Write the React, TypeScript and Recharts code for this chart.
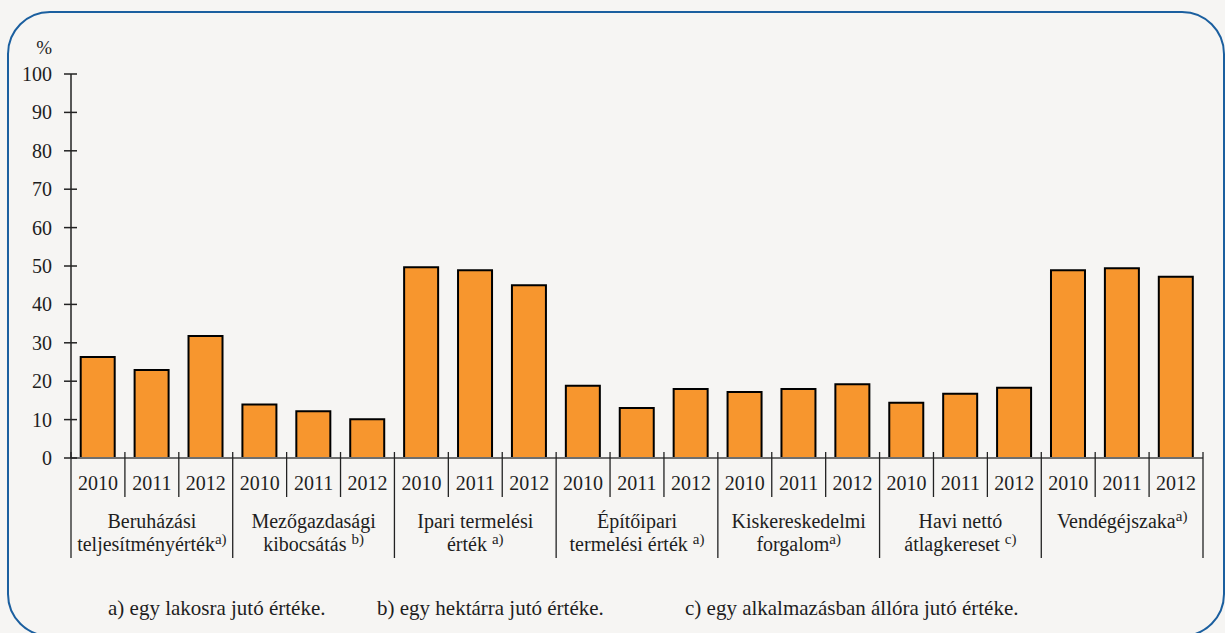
import React from 'react';
import { BarChart, Bar, XAxis, YAxis } from 'recharts';

// ---- data ----
const years = ['2010', '2011', '2012'];
const groupLine1 = ['Beruházási', 'Mezőgazdasági', 'Ipari termelési', 'Építőipari', 'Kiskereskedelmi', 'Havi nettó', 'Vendégéjszaka'];
const groupLine2 = ['teljesítményérték', 'kibocsátás ', 'érték ', 'termelési érték ', 'forgalom', 'átlagkereset ', ''];
const groupNote = ['a)', 'b)', 'a)', 'a)', 'a)', 'c)', 'a)'];
const values2010 = [26.3, 13.9, 49.7, 18.8, 17.2, 14.4, 48.9];
const values2011 = [22.9, 12.2, 48.9, 13.0, 18.0, 16.7, 49.4];
const values2012 = [31.8, 10.1, 45.0, 18.0, 19.2, 18.3, 47.2];
const yTicks = [0, 10, 20, 30, 40, 50, 60, 70, 80, 90, 100];
const footnotes = ['a) egy lakosra jutó értéke.', 'b) egy hektárra jutó értéke.', 'c) egy alkalmazásban állóra jutó értéke.'];

const seriesByYear = [values2010, values2011, values2012];
const data = groupLine1.flatMap((g, gi) =>
  years.map((y, yi) => ({ key: `${gi}-${y}`, year: y, group: gi, value: seriesByYear[yi][gi] }))
);

// ---- style ----
const W = 1225;
const H = 633;
const FONT = "'Liberation Serif', serif";
const TEXT = '#1e1e1e';
const ORANGE = '#f7962e';
const BG = '#f6f5f3';
const BLUE = '#1b5f9f';
const PLOT_LEFT = 71;
const PLOT_RIGHT = 1203;
const BW = (PLOT_RIGHT - PLOT_LEFT) / data.length;
const T = { fontFamily: FONT, fontSize: 20, fill: TEXT } as React.CSSProperties;
const SUP = { fontSize: 15 } as React.CSSProperties;

const YTick = (props: any) => {
  const { x, y, payload } = props;
  return (
    <g>
      <line x1={x - 7} x2={x + 6} y1={y} y2={y} stroke="#222" strokeWidth={1.5} />
      <text x={x - 19} y={y} textAnchor="end" dominantBaseline="central" style={T}>
        {payload.value}
      </text>
    </g>
  );
};

const XTick = (props: any) => {
  const { x, y, payload } = props;
  const i = payload.index;
  const d = data[i];
  const left = x - BW / 2;
  const right = x + BW / 2;
  const isGroupStart = i % 3 === 0;
  const isMiddle = i % 3 === 1;
  const isLast = i === data.length - 1;
  const g = d.group;
  return (
    <g>
      <line x1={left} x2={left} y1={y - 6} y2={isGroupStart ? y + 100 : y + 39} stroke="#222" strokeWidth={1.3} />
      {isLast && <line x1={right} x2={right} y1={y - 6} y2={y + 100} stroke="#222" strokeWidth={1.3} />}
      <text x={x} y={y + 25} textAnchor="middle" dominantBaseline="central" style={T}>
        {d.year}
      </text>
      {isMiddle && (
        <g>
          {groupLine2[g] === '' ? (
            <text x={x} y={y + 70} textAnchor="middle" style={T}>
              {groupLine1[g]}
              <tspan style={SUP} dy={-7}>{groupNote[g]}</tspan>
            </text>
          ) : (
            <>
              <text x={x} y={y + 70} textAnchor="middle" style={T}>
                {groupLine1[g]}
              </text>
              <text x={x} y={y + 93} textAnchor="middle" style={T}>
                {groupLine2[g]}
                <tspan style={SUP} dy={-7}>{groupNote[g]}</tspan>
              </text>
            </>
          )}
        </g>
      )}
    </g>
  );
};

export default function App() {
  return (
    <div style={{ position: 'absolute', left: 0, top: 0, width: W, height: H, background: BG, overflow: 'hidden', fontFamily: FONT }}>
      <svg width={W} height={H} style={{ position: 'absolute', left: 0, top: 0 }}>
        <rect x={8} y={12} width={1216} height={624} rx={42} ry={42} fill="none" stroke={BLUE} strokeWidth={2} />
      </svg>
      <div style={{ position: 'absolute', left: 0, top: 0 }}>
        <BarChart width={W} height={H} data={data} margin={{ top: 74, right: W - PLOT_RIGHT, bottom: 0, left: 0 }} barCategoryGap="18%">
          <XAxis
            dataKey="key"
            height={H - 458}
            interval={0}
            tickSize={0}
            tickMargin={0}
            tickLine={false}
            axisLine={{ stroke: '#6e6e6e', strokeWidth: 2 }}
            tick={(p: any) => <XTick {...p} />}
          />
          <XAxis xAxisId="top" dataKey="key" orientation="top" height={0} tick={false} tickLine={false} axisLine={{ stroke: '#8a8a8a', strokeWidth: 2 }} />
          <YAxis
            domain={[0, 100]}
            ticks={yTicks}
            width={PLOT_LEFT}
            interval={0}
            tickSize={0}
            tickMargin={0}
            tickLine={false}
            axisLine={{ stroke: '#222', strokeWidth: 1.5 }}
            tick={(p: any) => <YTick {...p} />}
          />
          <YAxis yAxisId="right" orientation="right" domain={[0, 100]} width={0} tick={false} tickLine={false} axisLine={{ stroke: '#8a8a8a', strokeWidth: 2 }} />
          <Bar dataKey="value" fill={ORANGE} stroke="#000" strokeWidth={2} isAnimationActive={false} />
        </BarChart>
      </div>
      <svg width={W} height={H} style={{ position: 'absolute', left: 0, top: 0, pointerEvents: 'none' }}>
        <text x={52} y={47} textAnchor="end" dominantBaseline="central" style={{ ...T, fontSize: 19 }}>%</text>
        <text x={108} y={615} style={{ ...T, fontSize: 21 }}>{footnotes[0]}</text>
        <text x={377} y={615} style={{ ...T, fontSize: 21 }}>{footnotes[1]}</text>
        <text x={685} y={615} style={{ ...T, fontSize: 21 }}>{footnotes[2]}</text>
      </svg>
    </div>
  );
}
